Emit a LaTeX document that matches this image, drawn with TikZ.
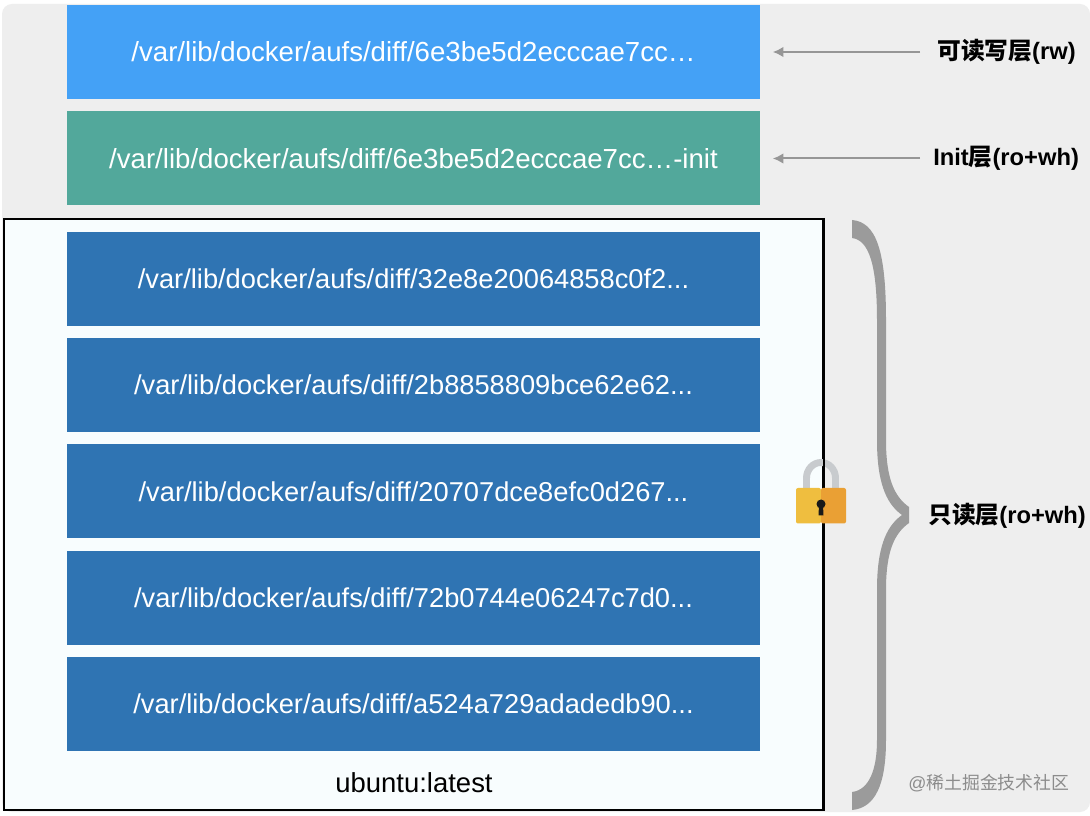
\documentclass[tikz,border=0pt]{standalone}
\usepackage{fontspec}
\setmainfont{Liberation Sans}
\newfontfamily\cjk{Noto Sans CJK SC}
\newlength{\du}
\setlength{\du}{0.75pt}
\definecolor{panelcolor}{RGB}{238,238,238}
\definecolor{framecolor}{RGB}{248,253,254}
\definecolor{rwcolor}{RGB}{68,161,246}
\definecolor{initcolor}{RGB}{82,168,155}
\definecolor{rocolor}{RGB}{47,116,179}
\definecolor{bracecolor}{RGB}{155,155,155}
\definecolor{arrowcolor}{RGB}{150,150,150}
\definecolor{shacklecolor}{RGB}{200,203,206}
\definecolor{lockleftcolor}{RGB}{239,190,63}
\definecolor{lockrightcolor}{RGB}{234,160,52}
\tikzset{
  layerbox/.style={minimum width=693\du,minimum height=94\du,inner sep=0pt,text=white,font=\fontsize{20.7pt}{24pt}\selectfont},
  rolayerbox/.style={layerbox,fill=rocolor,font=\fontsize{20.45pt}{24pt}\selectfont},
  sidelabel/.style={inner sep=0pt,font=\fontsize{17.8pt}{22pt}\selectfont\bfseries},
  sidearrow/.style={draw=arrowcolor,line width=1.5pt,-{Latex[length=8pt,width=8pt]},shorten >=12.5\du}
}
\usetikzlibrary{arrows.meta}
\begin{document}
\begin{tikzpicture}[x=\du,y=-\du]
\useasboundingbox (0,0) rectangle (1090,816);
% background
\fill[white] (0,0) rectangle (1090,816);
\fill[panelcolor,rounded corners=10\du] (2,4) rectangle (1090,812);
% frame of the image
\node[draw=black,line width=1.5pt,fill=framecolor,minimum width=819\du,minimum height=591\du,inner sep=0pt] (imageframe) at (413.5,514.5) {};
% layers
\node[layerbox,fill=rwcolor] (rwlayer) at (413.5,52) {/var/lib/docker/aufs/diff/6e3be5d2ecccae7cc…};
\node[layerbox,fill=initcolor] (initlayer) at (413.5,158.5) {/var/lib/docker/aufs/diff/6e3be5d2ecccae7cc…-init};
\node[rolayerbox] (rolayera) at (413.5,279) {/var/lib/docker/aufs/diff/32e8e20064858c0f2...};
\node[rolayerbox] (rolayerb) at (413.5,385) {/var/lib/docker/aufs/diff/2b8858809bce62e62...};
\node[rolayerbox] (rolayerc) at (413.5,491.5) {/var/lib/docker/aufs/diff/20707dce8efc0d267...};
\node[rolayerbox] (rolayerd) at (413.5,598) {/var/lib/docker/aufs/diff/72b0744e06247c7d0...};
\node[rolayerbox] (rolayere) at (413.5,704) {/var/lib/docker/aufs/diff/a524a729adadedb90...};
\node[inner sep=0pt,font=\fontsize{20.6pt}{24pt}\selectfont] (imagename) at (414,783) {ubuntu:latest};
% labels
\node[sidelabel,anchor=west] (rwlabel) at (937,52) {{\cjk 可读写层}(rw)};
\node[sidelabel,anchor=west] (initlabel) at (933,158.5) {Init{\cjk 层}(ro+wh)};
\node[sidelabel,anchor=west] (rolabel) at (928,516) {{\cjk 只读层}(ro+wh)};
\node[inner sep=0pt,anchor=west,text=black!45,font=\fontsize{13.4pt}{15pt}\selectfont] (watermark) at (908,783) {@{\cjk 稀土掘金技术社区}};
% arrows
\draw[sidearrow,shorten <=17\du] (rwlabel.west) -- (rwlayer.east);
\draw[sidearrow,shorten <=13\du] (initlabel.west) -- (initlayer.east);
% brace
\fill[bracecolor] (852,220) .. controls (876,222) and (886,250) .. (886,320)
  -- (886,440) .. controls (886,480) and (895,497) .. (909,507)
  -- (909,523) .. controls (895,533) and (886,550) .. (886,590)
  -- (886,740) .. controls (886,785) and (875,808) .. (852,810)
  -- (852,792) .. controls (869,790) and (877,770) .. (877,740)
  -- (877,590) .. controls (877,550) and (885,527) .. (902,515)
  .. controls (885,503) and (877,480) .. (877,440)
  -- (877,320) .. controls (877,265) and (869,240) .. (852,238) -- cycle;
% lock
\draw[shacklecolor,line width=5.2pt] (806.5,490) -- (806.5,478) arc[start angle=180,end angle=0,x radius=14.5,y radius=-15.5] -- (835.5,490);
\draw[black,line width=1.5pt] (imageframe.north east) -- (imageframe.south east);
\fill[lockleftcolor,rounded corners=2\du] (796,488) -- (821,488) -- (821,523.5) -- (796,523.5) -- cycle;
\fill[lockrightcolor,rounded corners=2\du] (821,488) -- (846,488) -- (846,523.5) -- (821,523.5) -- cycle;
\fill[black!90] (821,504) circle[radius=4.5] (819,505) -- (823,505) -- (823.5,515.5) -- (818.5,515.5) -- cycle;
\end{tikzpicture}
\end{document}
